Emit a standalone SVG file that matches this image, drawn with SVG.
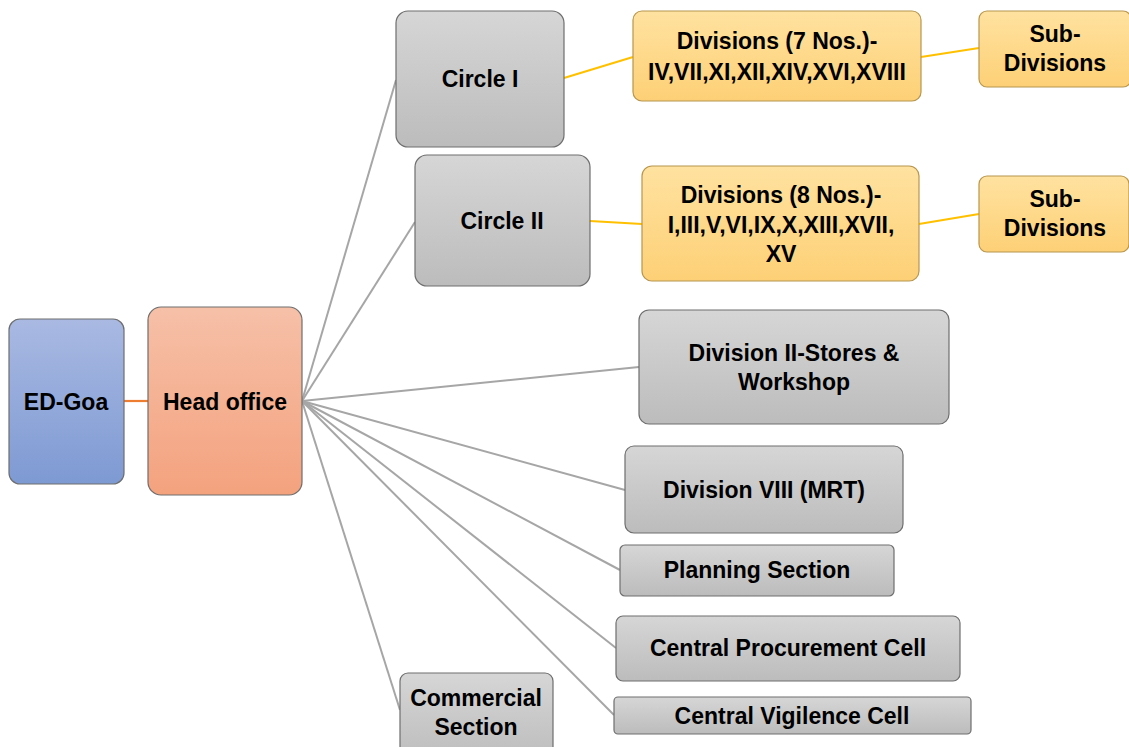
<svg xmlns="http://www.w3.org/2000/svg" width="1129" height="747" viewBox="0 0 1129 747">
<defs>
<linearGradient id="gGray" x1="0" y1="0" x2="0" y2="1"><stop offset="0" stop-color="#d6d6d6"/><stop offset="1" stop-color="#bcbcbc"/></linearGradient>
<linearGradient id="gYel" x1="0" y1="0" x2="0" y2="1"><stop offset="0" stop-color="#ffe2a0"/><stop offset="1" stop-color="#fdd076"/></linearGradient>
<linearGradient id="gOra" x1="0" y1="0" x2="0" y2="1"><stop offset="0" stop-color="#f6c0a8"/><stop offset="1" stop-color="#f4a27e"/></linearGradient>
<linearGradient id="gBlue" x1="0" y1="0" x2="0" y2="1"><stop offset="0" stop-color="#a9b9e2"/><stop offset="1" stop-color="#7e9ad3"/></linearGradient>
</defs>
<style>
.n{stroke:#6e6e6e;stroke-width:1.2}
.gray{fill:url(#gGray)}
.yel{fill:url(#gYel);stroke:#b8964e}
.ora{fill:url(#gOra)}
.blue{fill:url(#gBlue)}
text{font-family:"Liberation Sans",Arial,sans-serif;font-weight:bold;font-size:23px;fill:#000;text-anchor:middle;dominant-baseline:central}
.cg{stroke:#a6a6a6;stroke-width:2;fill:none}
.cy{stroke:#ffc000;stroke-width:2.2;fill:none}
.co{stroke:#ed7d31;stroke-width:2.2;fill:none}
</style>
<rect width="1129" height="747" fill="#ffffff"/>
<g id="connectors">
<line class="co" x1="124" y1="401" x2="148" y2="401"/>
<line class="cg" x1="302" y1="401" x2="396" y2="80"/>
<line class="cg" x1="302" y1="401" x2="415" y2="222"/>
<line class="cg" x1="302" y1="401" x2="639" y2="367"/>
<line class="cg" x1="302" y1="401" x2="625" y2="490"/>
<line class="cg" x1="302" y1="401" x2="620" y2="570"/>
<line class="cg" x1="302" y1="401" x2="616" y2="648"/>
<line class="cg" x1="302" y1="401" x2="614" y2="715"/>
<line class="cg" x1="302" y1="401" x2="400" y2="710"/>
<line class="cy" x1="564" y1="78" x2="633" y2="57"/>
<line class="cy" x1="921" y1="57" x2="979" y2="48"/>
<line class="cy" x1="590" y1="221" x2="642" y2="224"/>
<line class="cy" x1="919" y1="224" x2="979" y2="214"/>
</g>
<g id="ed-goa"><rect class="n blue" x="9" y="319" width="115" height="165" rx="11"/><text x="66" y="402">ED-Goa</text></g>
<g id="head-office"><rect class="n ora" x="148" y="307" width="154" height="188" rx="13"/><text x="225" y="402" font-size="24">Head office</text></g>
<g id="circle-1"><rect class="n gray" x="396" y="11" width="168" height="136" rx="12"/><text x="480" y="79">Circle I</text></g>
<g id="circle-2"><rect class="n gray" x="415" y="155" width="175" height="131" rx="12"/><text x="502" y="221">Circle II</text></g>
<g id="divisions-7"><rect class="n yel" x="633" y="11" width="288" height="90" rx="9"/><text x="777" y="41">Divisions (7 Nos.)-</text><text x="777" y="72">IV,VII,XI,XII,XIV,XVI,XVIII</text></g>
<g id="sub-divisions-1"><rect class="n yel" x="979" y="11" width="152" height="76" rx="8"/><text x="1055" y="34">Sub-</text><text x="1055" y="63">Divisions</text></g>
<g id="divisions-8"><rect class="n yel" x="642" y="166" width="277" height="115" rx="10"/><text x="781" y="195">Divisions (8 Nos.)-</text><text x="781" y="225">I,III,V,VI,IX,X,XIII,XVII,</text><text x="781" y="254">XV</text></g>
<g id="sub-divisions-2"><rect class="n yel" x="979" y="176" width="150" height="76" rx="8"/><text x="1055" y="199">Sub-</text><text x="1055" y="228">Divisions</text></g>
<g id="division-2"><rect class="n gray" x="639" y="310" width="310" height="114" rx="10"/><text x="794" y="353">Division II-Stores &amp;</text><text x="794" y="382">Workshop</text></g>
<g id="division-8"><rect class="n gray" x="625" y="446" width="278" height="87" rx="9"/><text x="764" y="490">Division VIII (MRT)</text></g>
<g id="planning"><rect class="n gray" x="620" y="545" width="274" height="51" rx="5"/><text x="757" y="570">Planning Section</text></g>
<g id="procurement"><rect class="n gray" x="616" y="616" width="344" height="65" rx="7"/><text x="788" y="648">Central Procurement Cell</text></g>
<g id="vigilence"><rect class="n gray" x="614" y="697" width="357" height="37" rx="4"/><text x="792" y="716">Central Vigilence Cell</text></g>
<g id="commercial"><rect class="n gray" x="400" y="673" width="153" height="90" rx="8"/><text x="476" y="698">Commercial</text><text x="476" y="727">Section</text></g>
</svg>
